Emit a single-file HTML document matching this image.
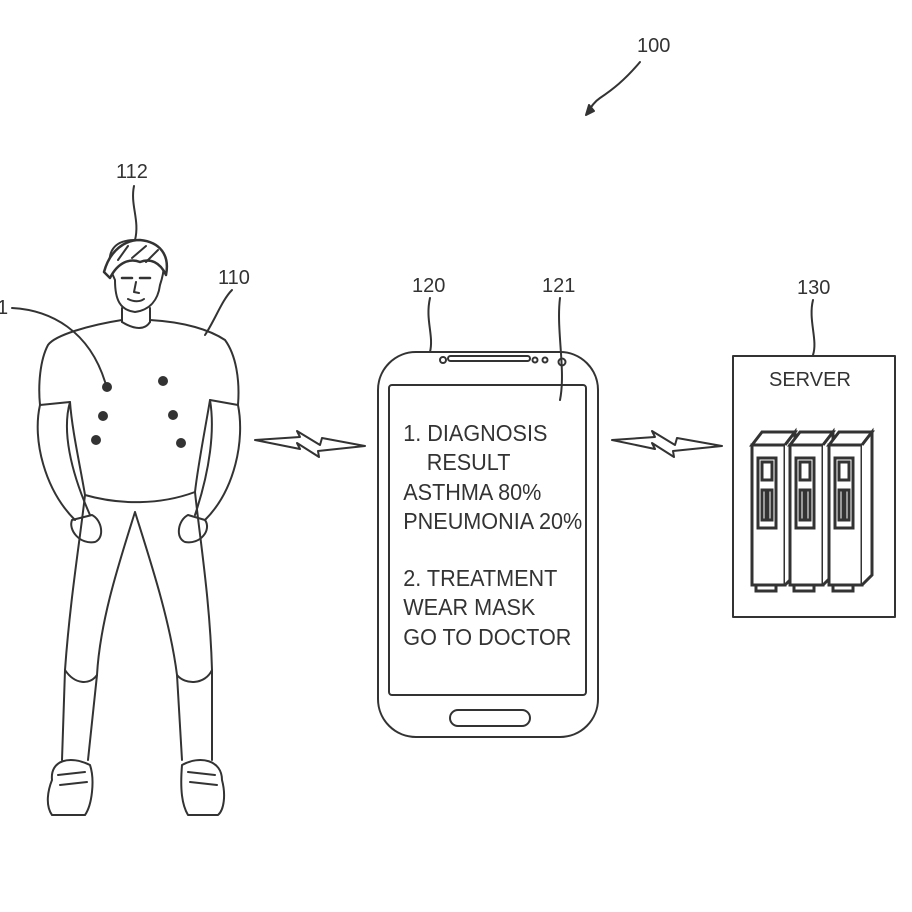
<!DOCTYPE html>
<html><head><meta charset="utf-8"><style>
html,body{margin:0;padding:0;background:#fff;}
svg{display:block;}
text{font-family:"Liberation Sans",sans-serif;fill:#333;}
</style></head><body>
<svg width="912" height="912" viewBox="0 0 912 912" xmlns="http://www.w3.org/2000/svg">
<g fill="none" stroke="#333" stroke-width="2" stroke-linecap="round" stroke-linejoin="round">
<path d="M640 62 C625 80 612 90 600 98 C594 102 590 108 587 114"/>
<path d="M586 115 l3 -10 l5 6 z" fill="#333"/>
<path d="M134 186 C130 205 140 220 135 240"/>
<path d="M232 290 C222 300 215 320 205 335"/>
<path d="M12 308 C50 310 90 330 106 385"/>
<path d="M430 298 C425 320 434 335 430 352"/>
<path d="M560 298 C556 330 566 370 560 400"/>
<path d="M813 300 C808 320 818 340 813 355"/>
<path d="M255 440 L300 437 L297 431 L320 445 L322 438 L365 446 L318 451 L319 457 L297 443 L300 449 Z"/>
<path d="M612 440 L655 437 L652 431 L675 445 L677 438 L722 446 L673 451 L674 457 L652 443 L655 449 Z"/>
<!-- person -->
<path d="M115 280 C103 255 112 240 135 240 C160 240 170 255 160 285 C158 300 150 310 135 312 C120 310 115 300 115 280 Z"/>
<path d="M104 272 C110 250 125 240 140 240 C160 242 170 255 166 275 C160 262 150 258 140 262 C130 258 118 262 110 278 Z" fill="#fff" stroke-width="2.5"/>
<path d="M118 260 L128 246 M132 258 L146 246 M146 262 L158 250"/>
<path d="M122 278 L132 278 M140 278 L150 278" stroke-width="2.5"/>
<path d="M136 282 L134 292 L139 293 M128 299 C134 302 140 302 144 299"/>
<path d="M122 308 L122 322 M150 308 L150 322"/>
<path d="M122 322 C135 330 145 330 150 322"/>
<path d="M122 320 C90 325 55 335 48 345 C40 360 38 385 40 405 L70 402 C72 430 80 465 85 495 C120 505 160 505 195 492 C198 465 205 430 210 400 L238 405 C240 380 236 355 225 340 C210 330 185 322 150 320"/>
<path d="M40 405 C32 440 45 490 75 520 M70 402 C62 430 70 470 90 515"/>
<path d="M238 405 C245 440 235 490 205 520 M210 400 C215 430 210 470 195 515"/>
<path d="M72 520 C68 530 80 545 95 542 C105 538 102 520 92 515 Z"/>
<path d="M205 520 C212 530 200 545 185 542 C175 538 178 520 188 515 Z"/>
<path d="M85 495 C80 540 70 600 65 670 L62 760 M195 492 C200 540 210 600 212 670 L212 760"/>
<path d="M135 512 C120 560 100 620 97 675 L88 760 M135 512 C150 560 170 620 177 675 L182 760"/>
<path d="M65 670 C75 685 90 685 97 675 M177 675 C185 685 205 685 212 670"/>
<path d="M52 780 C50 760 70 755 90 765 C95 780 92 805 85 815 L52 815 C45 805 48 790 52 780 Z"/>
<path d="M182 765 C200 755 222 760 222 780 C226 795 224 810 218 815 L188 815 C182 805 180 790 182 765 Z"/>
<path d="M58 775 L85 772 M60 785 L87 782 M188 772 L215 775 M190 782 L217 785"/>
<!-- phone -->
<rect x="378" y="352" width="220" height="385" rx="38"/>
<rect x="389" y="385" width="197" height="310" rx="3"/>
<rect x="450" y="710" width="80" height="16" rx="8"/>
<rect x="448" y="356" width="82" height="5" rx="2.5"/>
<circle cx="443" cy="360" r="3"/><circle cx="535" cy="360" r="2.5"/><circle cx="545" cy="360" r="2.5"/><circle cx="562" cy="362" r="3.5"/>
<rect x="733" y="356" width="162" height="261"/>
</g>
<g fill="#fff" stroke="#333" stroke-width="3">
<g id="t"><path d="M752 445 L762 432 L795 432 L785 445 Z"/><rect x="752" y="445" width="33" height="140"/><path d="M785 445 L795 432 L795 575 L785 585"/><rect x="758" y="458" width="18" height="70"/><rect x="762" y="462" width="10" height="18"/><rect x="762" y="490" width="4" height="30"/><rect x="768" y="490" width="4" height="30"/><rect x="756" y="585" width="20" height="6"/></g>
<use href="#t" x="38"/><use href="#t" x="77"/>
</g>
<g font-size="20">
<text x="637" y="52">100</text>
<text x="116" y="178">112</text>
<text x="218" y="284">110</text>
<text x="-3" y="314">1</text>
<text x="412" y="292">120</text>
<text x="542" y="292">121</text>
<text x="797" y="294">130</text>
<text x="769" y="386">SERVER</text>
</g>
<g font-size="23" transform="scale(0.94,1)">
<text x="429" y="441">1. DIAGNOSIS</text>
<text x="454" y="470">RESULT</text>
<text x="429" y="500">ASTHMA 80%</text>
<text x="429" y="529">PNEUMONIA 20%</text>
<text x="429" y="586">2. TREATMENT</text>
<text x="429" y="615">WEAR MASK</text>
<text x="429" y="645">GO TO DOCTOR</text>
</g>
<g fill="#333">
<circle cx="107" cy="387" r="5"/><circle cx="163" cy="381" r="5"/>
<circle cx="103" cy="416" r="5"/><circle cx="173" cy="415" r="5"/>
<circle cx="96" cy="440" r="5"/><circle cx="181" cy="443" r="5"/>
</g>
</svg>
</body></html>
